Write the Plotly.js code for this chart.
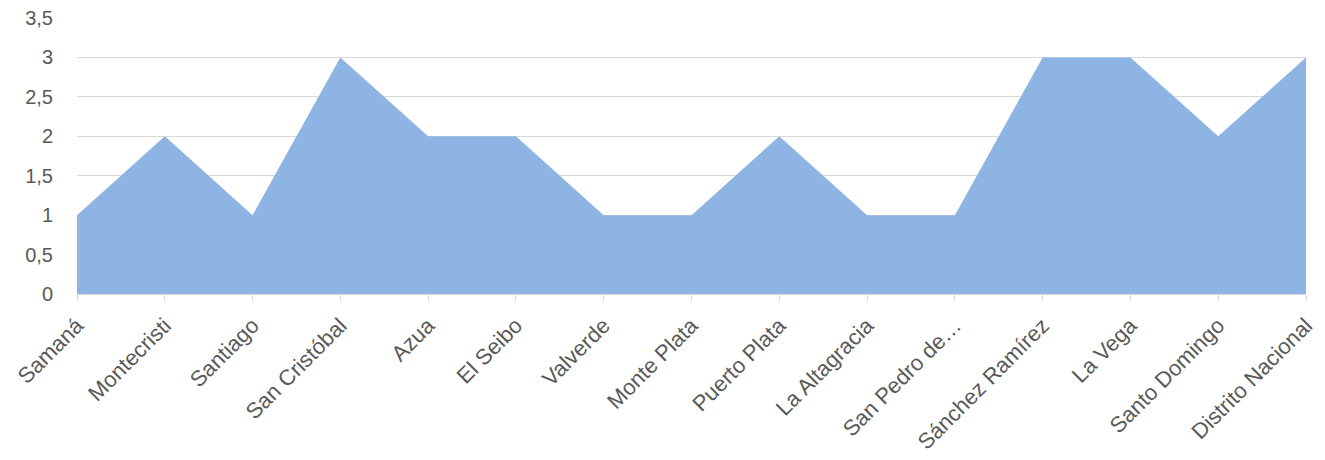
<!DOCTYPE html>
<html>
<head>
<meta charset="utf-8">
<script src="https://cdn.plot.ly/plotly-3.0.1.min.js"></script>
<style>html,body{margin:0;padding:0;background:#fff;}#chart{width:1325px;height:460px;}</style>
</head>
<body>
<div id="chart"></div>
<script>
const provincias = ["Samaná","Montecristi","Santiago","San Cristóbal","Azua","El Seibo","Valverde","Monte Plata","Puerto Plata","La Altagracia","San Pedro de…","Sánchez Ramírez","La Vega","Santo Domingo","Distrito Nacional"];
const valores = [1,2,1,3,2,2,1,1,2,1,1,3,3,2,3];

const trace = {
  x: provincias,
  y: valores,
  type: "scatter",
  mode: "none",
  fill: "tozeroy",
  fillcolor: "#8EB4E3",
  hoverinfo: "x+y"
};

const layout = {
  width: 1325,
  height: 460,
  margin: {l: 77, r: 19, t: 18, b: 166},
  paper_bgcolor: "#ffffff",
  plot_bgcolor: "#ffffff",
  separators: ",.",
  showlegend: false,
  font: {family: "Liberation Sans, Arial, sans-serif", color: "#595959", size: 20},
  xaxis: {
    type: "category",
    range: [0, provincias.length - 1],
    tickangle: -45,
    ticks: "outside",
    ticklen: 6,
    tickcolor: "#d9d9d9",
    tickwidth: 1,
    showline: true,
    linecolor: "#d9d9d9",
    linewidth: 1,
    showgrid: false,
    zeroline: false,
    ticklabelstandoff: 3,
    tickfont: {size: 22, color: "#595959"},
    automargin: false
  },
  yaxis: {
    range: [0, 3.5],
    dtick: 0.5,
    tick0: 0,
    showgrid: true,
    gridcolor: "#d9d9d9",
    gridwidth: 1,
    zeroline: false,
    showline: false,
    ticks: "",
    ticklabelstandoff: 23,
    tickfont: {size: 20, color: "#595959"},
    automargin: false
  }
};

Plotly.newPlot("chart", [trace], layout, {displayModeBar: false, staticPlot: true});
</script>
</body>
</html>
